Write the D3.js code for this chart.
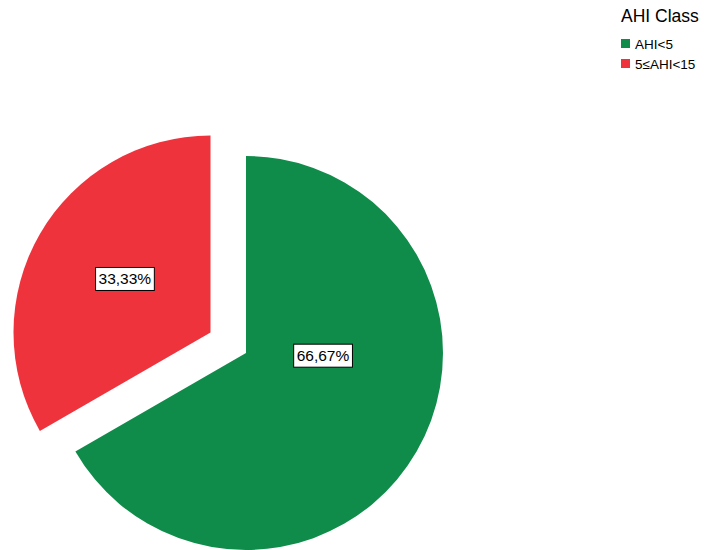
<!DOCTYPE html>
<html>
<head>
<meta charset="utf-8">
<script src="https://cdn.jsdelivr.net/npm/d3@7"></script>
<style>
  html, body { margin: 0; padding: 0; background: #fff; }
  svg { display: block; font-family: "Liberation Sans", Arial, sans-serif; }
</style>
</head>
<body>
<svg id="chart" width="711" height="550"></svg>
<script>
// AHI class shares (percent)
const categories = ["AHI<5", "5≤AHI<15"];
const values = [66.67, 33.33];
const labels = ["66,67%", "33,33%"];
const colors = ["#108c4a", "#ef333c"];
const legendTitle = "AHI Class";

const svg = d3.select("#chart");
const cx = 246, cy = 353, radius = 197;
const explode = [0, 41];          // radial offset per slice
const labelPolar = [[77, 92], [101, 302]]; // [distance, degrees clockwise from 12 o'clock]

const pie = d3.pie().sort(null).value(d => d.value);
const arcs = pie(categories.map((c, i) => ({ name: c, value: values[i], i })));
const arc = d3.arc().innerRadius(0).outerRadius(radius);

const g = svg.append("g").attr("transform", `translate(${cx},${cy})`);

const slice = g.selectAll("g.slice").data(arcs).join("g")
  .attr("class", "slice")
  .attr("transform", d => {
    const mid = (d.startAngle + d.endAngle) / 2;
    const off = explode[d.data.i];
    return `translate(${Math.sin(mid) * off},${-Math.cos(mid) * off})`;
  });

slice.append("path")
  .attr("d", arc)
  .attr("fill", d => colors[d.data.i]);

// value labels in boxed text
slice.each(function (d) {
  const sel = d3.select(this);
  const [r, deg] = labelPolar[d.data.i];
  const a = deg * Math.PI / 180;
  const x = Math.sin(a) * r, y = -Math.cos(a) * r;
  const t = sel.append("text")
    .attr("x", x).attr("y", y)
    .attr("text-anchor", "middle")
    .attr("dominant-baseline", "central")
    .attr("font-size", 15.5)
    .attr("fill", "#000")
    .text(labels[d.data.i]);
  const bb = t.node().getBBox();
  sel.insert("rect", "text")
    .attr("x", bb.x - 3).attr("y", y - 11.5)
    .attr("width", bb.width + 6).attr("height", 23)
    .attr("fill", "#fff")
    .attr("stroke", "#000")
    .attr("stroke-width", 1);
});

// legend
const lg = svg.append("g").attr("transform", "translate(621,0)");
lg.append("text")
  .attr("x", 0).attr("y", 22)
  .attr("font-size", 17.5)
  .attr("fill", "#000")
  .text(legendTitle);

const item = lg.selectAll("g.item").data(categories).join("g")
  .attr("class", "item")
  .attr("transform", (d, i) => `translate(0,${39 + i * 20})`);
item.append("rect")
  .attr("width", 9).attr("height", 9)
  .attr("fill", (d, i) => colors[i]);
item.append("text")
  .attr("x", 14).attr("y", 9.5)
  .attr("font-size", 13.5)
  .attr("fill", "#000")
  .text(d => d);
</script>
</body>
</html>
